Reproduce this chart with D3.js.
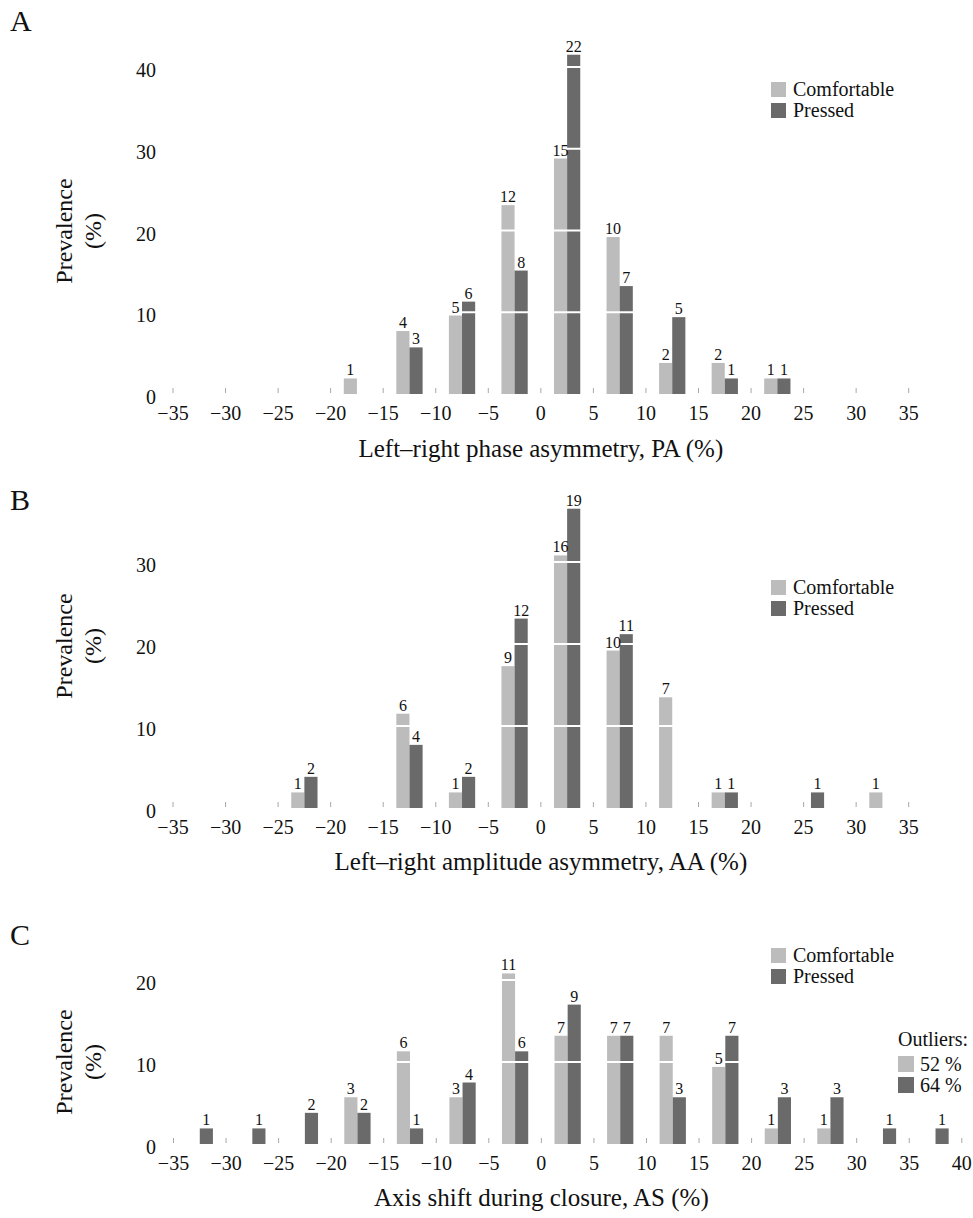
<!DOCTYPE html>
<html>
  <head>
    <meta charset="utf-8" />
    <title>Prevalence histograms</title>
    <style>
      body { margin: 0; background: #fff; }
      text { font-family: "Liberation Serif", "DejaVu Serif", serif; fill: #111; }
    </style>
  </head>
  <body>
    <svg id="chart" width="973" height="1218"></svg>
    <script src="https://cdn.jsdelivr.net/npm/d3@7"></script>
    <script>
      // ---- data (prevalence in %, counts shown above bars) ----
      const binsA = [-17.5, -12.5, -7.5, -2.5, 2.5, 7.5, 12.5, 17.5, 22.5];
      const comfortA = [1.9, 7.7, 9.6, 23.1, 28.8, 19.2, 3.8, 3.8, 1.9];
      const comfortCountA = [1, 4, 5, 12, 15, 10, 2, 2, 1];
      const pressedA = [null, 5.7, 11.3, 15.1, 41.5, 13.2, 9.4, 1.9, 1.9];
      const pressedCountA = [null, 3, 6, 8, 22, 7, 5, 1, 1];

      const binsB = [-22.5, -12.5, -7.5, -2.5, 2.5, 7.5, 12.5, 17.5, 25.7, 32.5];
      const comfortB = [1.9, 11.5, 1.9, 17.3, 30.8, 19.2, 13.5, 1.9, null, 1.9];
      const comfortCountB = [1, 6, 1, 9, 16, 10, 7, 1, null, 1];
      const pressedB = [3.8, 7.7, 3.8, 23.1, 36.5, 21.2, null, 1.9, 1.9, null];
      const pressedCountB = [2, 4, 2, 12, 19, 11, null, 1, 1, null];

      const binsC = [-32.5, -27.5, -22.5, -17.5, -12.5, -7.5, -2.5, 2.5, 7.5, 12.5, 17.5, 22.5, 27.5, 32.5, 37.5];
      const comfortC = [null, null, null, 5.7, 11.3, 5.7, 20.8, 13.2, 13.2, 13.2, 9.4, 1.9, 1.9, null, null];
      const comfortCountC = [null, null, null, 3, 6, 3, 11, 7, 7, 7, 5, 1, 1, null, null];
      const pressedC = [1.9, 1.9, 3.8, 3.8, 1.9, 7.5, 11.3, 17.0, 13.2, 5.7, 13.2, 5.7, 5.7, 1.9, 1.9];
      const pressedCountC = [1, 1, 2, 2, 1, 4, 6, 9, 7, 3, 7, 3, 3, 1, 1];

      const xTicksAB = [-35, -30, -25, -20, -15, -10, -5, 0, 5, 10, 15, 20, 25, 30, 35];
      const xTicksC = [-35, -30, -25, -20, -15, -10, -5, 0, 5, 10, 15, 20, 25, 30, 35, 40];
      const yTicksA = [0, 10, 20, 30, 40];
      const yTicksB = [0, 10, 20, 30];
      const yTicksC = [0, 10, 20];

      const seriesNames = ["Comfortable", "Pressed"];
      const outlierLabels = ["52 %", "64 %"];

      const colorLight = "#bcbcbc";
      const colorDark = "#6a6a6a";
      const halfBar = 1.25; // each bar spans 1.25 units of the x axis

      let svg = d3.select("#chart");

      function drawPanel(p) {
        let g = svg.append("g");

        let xScale = d3.scaleLinear().domain(p.xDomain).range(p.xRange);
        let yScale = d3.scaleLinear().domain(p.yDomain).range(p.yRange);
        let base = yScale(0);

        // panel letter
        g.append("text")
          .attr("x", 10)
          .attr("y", p.letterY)
          .style("font-size", "30px")
          .text(p.letter);

        // x ticks (small marks just above the baseline)
        g.selectAll(".xtick")
          .data(p.xTicks)
          .enter()
          .append("line")
          .attr("x1", (d) => xScale(d))
          .attr("x2", (d) => xScale(d))
          .attr("y1", base - 6)
          .attr("y2", base - 1)
          .attr("stroke", "#a8a8a8")
          .attr("stroke-width", 1);

        g.selectAll(".xlabel")
          .data(p.xTicks)
          .enter()
          .append("text")
          .attr("x", (d) => xScale(d))
          .attr("y", base + 26)
          .attr("text-anchor", "middle")
          .style("font-size", "20px")
          .text((d) => (d < 0 ? "\u2212" + Math.abs(d) : d));

        // y labels
        g.selectAll(".ylabel")
          .data(p.yTicks)
          .enter()
          .append("text")
          .attr("x", 156)
          .attr("y", (d) => yScale(d) + 3)
          .attr("dy", "0.35em")
          .attr("text-anchor", "end")
          .style("font-size", "20px")
          .text((d) => d);

        // bars
        let rows = p.bins.map((b, i) => ({
          bin: b,
          comfort: p.comfort[i],
          comfortCount: p.comfortCount[i],
          pressed: p.pressed[i],
          pressedCount: p.pressedCount[i],
        }));

        let comfortRows = rows.filter((d) => d.comfort != null);
        let pressedRows = rows.filter((d) => d.pressed != null);

        g.selectAll(".barC")
          .data(comfortRows)
          .enter()
          .append("rect")
          .attr("x", (d) => xScale(d.bin - halfBar))
          .attr("width", (d) => xScale(d.bin) - xScale(d.bin - halfBar))
          .attr("y", (d) => yScale(d.comfort))
          .attr("height", (d) => base - yScale(d.comfort))
          .attr("fill", colorLight);

        g.selectAll(".barP")
          .data(pressedRows)
          .enter()
          .append("rect")
          .attr("x", (d) => xScale(d.bin))
          .attr("width", (d) => xScale(d.bin + halfBar) - xScale(d.bin))
          .attr("y", (d) => yScale(d.pressed))
          .attr("height", (d) => base - yScale(d.pressed))
          .attr("fill", colorDark);

        // white grid lines running through the bars
        g.selectAll(".grid")
          .data(p.yTicks.filter((d) => d > 0))
          .enter()
          .append("line")
          .attr("x1", p.xRange[0])
          .attr("x2", p.xRange[1])
          .attr("y1", (d) => yScale(d))
          .attr("y2", (d) => yScale(d))
          .attr("stroke", "#fff")
          .attr("stroke-width", 2);

        // count labels
        g.selectAll(".cntC")
          .data(comfortRows)
          .enter()
          .append("text")
          .attr("x", (d) => xScale(d.bin - halfBar / 2))
          .attr("y", (d) => yScale(d.comfort) - 3)
          .attr("text-anchor", "middle")
          .style("font-size", "16px")
          .text((d) => d.comfortCount);

        g.selectAll(".cntP")
          .data(pressedRows)
          .enter()
          .append("text")
          .attr("x", (d) => xScale(d.bin + halfBar / 2))
          .attr("y", (d) => yScale(d.pressed) - 3)
          .attr("text-anchor", "middle")
          .style("font-size", "16px")
          .text((d) => d.pressedCount);

        // y axis title
        let yt = g
          .append("text")
          .attr("transform", "translate(72," + p.yTitleY + ") rotate(-90)")
          .attr("text-anchor", "middle")
          .style("font-size", "24px");
        yt.append("tspan").attr("x", 0).attr("y", 0).text("Prevalence");
        yt.append("tspan").attr("x", 0).attr("y", 29).text("(%)");

        // x axis title
        g.append("text")
          .attr("x", xScale(0))
          .attr("y", p.xTitleY)
          .attr("text-anchor", "middle")
          .style("font-size", "25px")
          .text(p.xTitle);

        // legend
        let leg = g
          .selectAll(".leg")
          .data(seriesNames)
          .enter()
          .append("g")
          .attr("transform", (d, i) => "translate(771," + (p.legendY + i * 21) + ")");
        leg
          .append("rect")
          .attr("x", 0)
          .attr("y", -14)
          .attr("width", 15)
          .attr("height", 15)
          .attr("fill", (d, i) => (i == 0 ? colorLight : colorDark));
        leg
          .append("text")
          .attr("x", 22)
          .attr("y", 0)
          .style("font-size", "20px")
          .text((d) => d);

        if (p.outliers) {
          g.append("text")
            .attr("x", 898)
            .attr("y", p.outliersY)
            .style("font-size", "20px")
            .text("Outliers:");
          let ol = g
            .selectAll(".out")
            .data(p.outliers)
            .enter()
            .append("g")
            .attr("transform", (d, i) => "translate(898," + (p.outliersY + 25 + i * 21) + ")");
          ol.append("rect")
            .attr("x", 0)
            .attr("y", -15)
            .attr("width", 16)
            .attr("height", 16)
            .attr("fill", (d, i) => (i == 0 ? colorLight : colorDark));
          ol.append("text")
            .attr("x", 22)
            .attr("y", 0)
            .style("font-size", "20px")
            .text((d) => d);
        }
      }

      drawPanel({
        letter: "A",
        letterY: 31,
        xDomain: [-35, 35],
        xRange: [173, 908.7],
        yDomain: [0, 40],
        yRange: [394, 67],
        xTicks: xTicksAB,
        yTicks: yTicksA,
        bins: binsA,
        comfort: comfortA,
        comfortCount: comfortCountA,
        pressed: pressedA,
        pressedCount: pressedCountA,
        yTitleY: 231,
        xTitle: "Left\u2013right phase asymmetry, PA (%)",
        xTitleY: 457,
        legendY: 96,
      });

      drawPanel({
        letter: "B",
        letterY: 510,
        xDomain: [-35, 35],
        xRange: [173, 908.7],
        yDomain: [0, 30],
        yRange: [808, 562],
        xTicks: xTicksAB,
        yTicks: yTicksB,
        bins: binsB,
        comfort: comfortB,
        comfortCount: comfortCountB,
        pressed: pressedB,
        pressedCount: pressedCountB,
        yTitleY: 646,
        xTitle: "Left\u2013right amplitude asymmetry, AA (%)",
        xTitleY: 870,
        legendY: 594,
      });

      drawPanel({
        letter: "C",
        letterY: 945,
        xDomain: [-35, 40],
        xRange: [173.5, 961.8],
        yDomain: [0, 20],
        yRange: [1144, 980],
        xTicks: xTicksC,
        yTicks: yTicksC,
        bins: binsC,
        comfort: comfortC,
        comfortCount: comfortCountC,
        pressed: pressedC,
        pressedCount: pressedCountC,
        yTitleY: 1062,
        xTitle: "Axis shift during closure, AS (%)",
        xTitleY: 1206,
        legendY: 962,
        outliers: outlierLabels,
        outliersY: 1046,
      });
    </script>
  </body>
</html>
